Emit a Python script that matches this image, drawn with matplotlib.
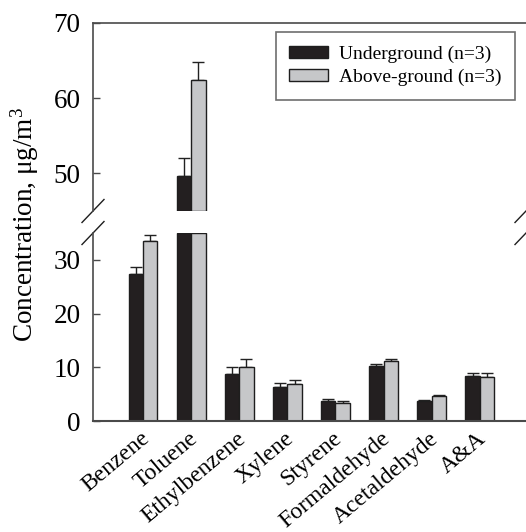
import matplotlib
matplotlib.use("Agg")
import matplotlib.pyplot as plt
import matplotlib.transforms as mtransforms
from matplotlib.patches import Patch
import numpy as np

categories = ["Benzene", "Toluene", "Ethylbenzene", "Xylene", "Styrene",
              "Formaldehyde", "Acetaldehyde", "A&A"]
under = [27.4, 49.7, 8.7, 6.3, 3.7, 10.2, 3.8, 8.3]
under_err = [1.3, 2.3, 1.4, 0.75, 0.4, 0.5, 0.1, 0.7]
above = [33.5, 62.4, 10.1, 6.8, 3.4, 11.1, 4.6, 8.2]
above_err = [1.2, 2.4, 1.5, 0.8, 0.4, 0.5, 0.2, 0.8]
series_labels = ["Underground (n=3)", "Above-ground (n=3)"]
top_ticks = [50, 60, 70]
bot_ticks = [0, 10, 20, 30]
top_lim = (45, 70)
bot_lim = (0, 35)

plt.rcParams['font.family'] = ['Liberation Serif', 'DejaVu Serif']
plt.rcParams['mathtext.fontset'] = 'custom'
plt.rcParams['mathtext.rm'] = 'Liberation Serif'
plt.rcParams['mathtext.it'] = 'Liberation Serif:italic'

BLACK = '#231f20'
GRAY = '#c6c7c9'
EDGE = '#1e1e1e'
SPINE = '#4a4a4a'

fig = plt.figure(figsize=(5.26, 5.32), dpi=100)
ax_top = fig.add_axes([0.1768, 0.6034, 0.8232, 0.3534])
ax_bot = fig.add_axes([0.1768, 0.2086, 0.8232, 0.3534])

x = np.arange(len(categories))
w = 0.30
under = np.array(under)
above = np.array(above)
under_err = np.array(under_err)
above_err = np.array(above_err)

err_kw = dict(ecolor='#222222', elinewidth=1.0, capsize=4, capthick=1.0)

for vals, errs, off, col in [(under, under_err, -w / 2, BLACK),
                             (above, above_err, w / 2, GRAY)]:
    # lower panel: bars truncated at the break
    h = np.minimum(vals, bot_lim[1])
    show = vals + errs <= bot_lim[1]
    ax_bot.bar(x + off, h, w, color=col, edgecolor=EDGE, linewidth=1.0, zorder=2)
    ax_bot.errorbar((x + off)[show], vals[show], yerr=[np.zeros(show.sum()), errs[show]],
                    fmt='none', zorder=1, **err_kw)
    # upper panel
    big = vals > top_lim[0]
    ax_top.bar((x + off)[big], vals[big] - top_lim[0], w, bottom=top_lim[0], color=col,
               edgecolor=EDGE, linewidth=1.0, zorder=2)
    ax_top.errorbar((x + off)[big], vals[big], yerr=[np.zeros(big.sum()), errs[big]],
                    fmt='none', zorder=1, **err_kw)

handles = [Patch(facecolor=BLACK, edgecolor=EDGE, linewidth=1.0),
           Patch(facecolor=GRAY, edgecolor=EDGE, linewidth=1.0)]
leg = ax_top.legend(handles, series_labels, loc='upper right',
                    bbox_to_anchor=(515 / 526, 1 - 32 / 532), bbox_transform=fig.transFigure,
                    fontsize=14, frameon=True, fancybox=False, borderpad=0.7,
                    handlelength=2.0, handleheight=0.55, handletextpad=0.55,
                    labelspacing=0.3, borderaxespad=0)
leg.get_frame().set_edgecolor(SPINE)
leg.get_frame().set_linewidth(1.2)

xlim = (-1.04, 7.96)
for ax in (ax_top, ax_bot):
    ax.set_xlim(*xlim)
    ax.spines['right'].set_visible(False)
    ax.spines['left'].set_color(SPINE)
    ax.spines['left'].set_linewidth(1.2)
    ax.tick_params(axis='y', direction='in', length=5, width=1.0, color=SPINE,
                   labelsize=19.5, pad=9)
    ax.patch.set_visible(False)

ax_top.set_ylim(*top_lim)
ax_top.set_yticks(top_ticks)
ax_top.spines['bottom'].set_visible(False)
ax_top.spines['top'].set_color(SPINE)
ax_top.spines['top'].set_linewidth(1.2)
ax_top.set_xticks([])

ax_bot.set_ylim(*bot_lim)
ax_bot.set_yticks(bot_ticks)
ax_bot.spines['top'].set_visible(False)
ax_bot.spines['bottom'].set_color(SPINE)
ax_bot.spines['bottom'].set_linewidth(1.5)
ax_bot.set_xticks(x)
ax_bot.set_xticklabels(categories, rotation=40, ha='right', va='top',
                       rotation_mode='anchor', fontsize=17)
ax_bot.tick_params(axis='x', length=0, pad=5)
offset = mtransforms.ScaledTranslation(-3 / 100, 0, fig.dpi_scale_trans)
for lbl in ax_bot.get_xticklabels():
    lbl.set_transform(lbl.get_transform() + offset)

# break marks
dx = 11 / (0.8232 * 526)
dy = 11.5 / (0.3534 * 532)
for xc in (0, 1):
    ax_top.plot([xc - dx, xc + dx], [-dy, dy], transform=ax_top.transAxes,
                color=EDGE, lw=1.0, clip_on=False)
    ax_bot.plot([xc - dx, xc + dx], [1 - dy, 1 + dy], transform=ax_bot.transAxes,
                color=EDGE, lw=1.0, clip_on=False)

fig.text(25 / 526, 1 - 225 / 532, r'Concentration, μg/m$^3$', rotation=90,
         ha='center', va='center', fontsize=19.5)

fig.savefig('out.png', dpi=100)
